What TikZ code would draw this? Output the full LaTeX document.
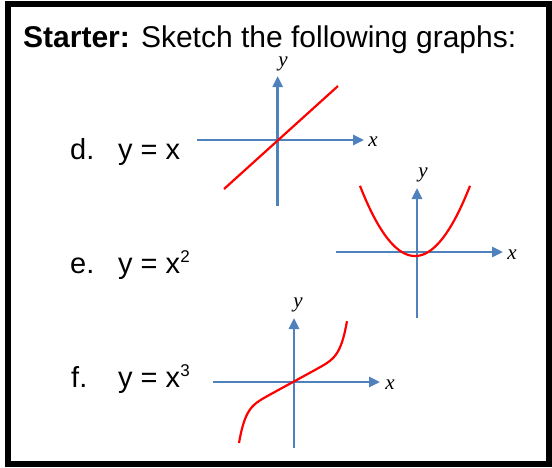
\documentclass[tikz,border=0pt]{standalone}
\usepackage{fontspec}
\setmainfont{Liberation Sans}
\newfontfamily\axfont{Liberation Serif}
\usetikzlibrary{arrows.meta}
\definecolor{axblue}{HTML}{4F81BD}
\newcommand{\supnum}[1]{\raisebox{11pt}{\fontsize{17}{17}\selectfont #1}}
\begin{document}
\begin{tikzpicture}[x=1pt,y=-1pt,
 axis/.style={draw=axblue,line width=2.6pt,-{Triangle[length=11pt,width=10pt]}},
 curve/.style={draw=red,line width=2.2pt},
 lbl/.style={font=\fontsize{29}{34}\selectfont,anchor=base west,inner sep=0pt},
 axlbl/.style={font=\axfont\itshape\fontsize{21}{24}\selectfont,inner sep=0pt},
]
\useasboundingbox (0,0) rectangle (552,467);
\draw[line width=6pt] (8,3.5) rectangle (549,464);
\node[anchor=base west,inner sep=0pt,font=\fontsize{30}{36}\selectfont] (title) at (23,47) {\textbf{Starter:} Sketch the following graphs:};
% labels
\node[lbl] (dlab) at (70,159) {d.};
\node[lbl] (dfun) at (118,159) {y = x};
\node[lbl] (elab) at (70,273) {e.};
\node[lbl] (efun) at (118,273) {y = x\supnum{2}};
\node[lbl] (flab) at (71,387) {f.};
\node[lbl] (ffun) at (118,387) {y = x\supnum{3}};
% graph d
\coordinate (dxa) at (197,140);
\coordinate (dxb) at (364,140);
\coordinate (dya) at (277.7,206);
\coordinate (dyb) at (277.7,76);
\draw[axis] (dxa) -- (dxb);
\draw[axis] (dya) -- (dyb);
\node[axlbl] (dy) at (283,64) {y};
\node[axlbl] (dx) at (373,142) {x};
\coordinate (dl1) at (224,189);
\coordinate (dl2) at (338,86);
\draw[curve] (dl1) -- (dl2);
% graph e
\coordinate (exa) at (336,252);
\coordinate (exb) at (503,252);
\coordinate (eya) at (417,318);
\coordinate (eyb) at (417,188);
\draw[axis] (exa) -- (exb);
\draw[axis] (eya) -- (eyb);
\node[axlbl] (ey) at (423,175) {y};
\node[axlbl] (ex) at (512,255) {x};
\draw[curve] plot[domain=-55:55,samples=80] ({415+\x},{256-0.0232*\x*\x});
% graph f
\coordinate (fxa) at (213,382);
\coordinate (fxb) at (380,382);
\coordinate (fya) at (294,448);
\coordinate (fyb) at (294,318);
\draw[axis] (fxa) -- (fxb);
\draw[axis] (fya) -- (fyb);
\node[axlbl] (fy) at (298,305) {y};
\node[axlbl] (fx) at (390,385) {x};
\draw[curve] plot[domain=-1:1,samples=121] ({293+54*\x},{382-29.5*\x-31.5*\x*\x*\x*\x*\x*\x*\x*\x*\x});
\end{tikzpicture}
\end{document}
